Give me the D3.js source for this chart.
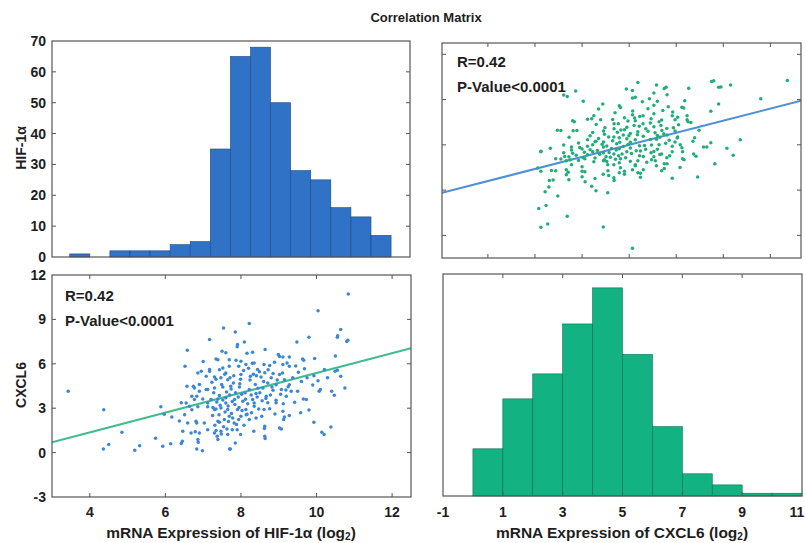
<!DOCTYPE html>
<html>
<head>
<meta charset="utf-8">
<script src="https://cdn.jsdelivr.net/npm/d3@7"></script>
<style>
  body { margin: 0; background: #fff; }
  text { font-family: "Liberation Sans", Arial, sans-serif; font-weight: bold; fill: #1e1e1e; }
</style>
</head>
<body>
<svg id="chart" width="806" height="543"></svg>
<script>
// histogram of HIF-1a (16 bins)
var hifBinStart = 3.47;
var hifBinWidth = 0.533;
var hifCounts = [1, 0, 2, 2, 2, 4, 5, 35, 65, 68, 50, 28, 25, 16, 13, 7];

// histogram of CXCL6 (bins of width 1 from 0)
var cxBinStart = 0;
var cxBinWidth = 1;
var cxCounts = [17, 35, 44, 62, 75, 51, 25, 8, 4, 1, 1];

// regression lines: [intercept, slope]
var fitCxOnHif = [-1.304, 0.668];
var fitHifOnCx = [6.935, 0.267];

var statLines = ['R=0.42', 'P-Value<0.0001'];
var countTicks = [0, 10, 20, 30, 40, 50, 60, 70];
var hifTicks = [4, 6, 8, 10, 12];
var cxTicks = [-3, 0, 3, 6, 9, 12];
var cxHistTicks = [-1, 1, 3, 5, 7, 9, 11];
var hifInnerTicks = [4, 6, 8, 10, 12];
var cxInnerTicks = [-2, 0, 2, 4, 6, 8, 10];

// samples: [HIF-1a, CXCL6]
var samples = [
  [3.43,4.14],[4.37,2.9],[4.36,0.25],[4.5,0.54],[4.85,1.37],[5.19,0.16],[5.32,0.47],[5.74,0.97],
  [5.88,3.09],[5.93,0.43],[5.97,2.59],[6.17,2.41],[6.14,0.59],[6.37,2.13],[6.45,0.77],[6.51,2.55],
  [6.52,5.83],[6.58,6.91],[6.55,3.35],[6.57,4.48],[7.17,7.64],[7.54,8.42],[7.85,8.15],[8.09,7.47],
  [8.22,8.72],[7.9,7.16],[8.64,6.97],[9.48,7.47],[9.8,7.8],[10.04,9.59],[10.64,8.31],[10.84,10.72],
  [10.55,7.8],[10.8,7.5],[10.5,6.53],[10.75,4.37],[10.64,5.16],[10.55,5.57],[10.4,4.14],[10.47,3.88],
  [10.38,1.73],[9.93,2.05],[10.14,1.37],[10.2,1.22],[9.8,2.88],[9.65,3.63],[9.9,4.56],[9.93,5.2],
  [10.04,4.86],[9.95,6.36],[9.63,6.32],[9.6,4.8],[10.07,4.14],[10.29,5.05],[9.19,4.23],[9.28,2.5],
  [9.13,2.23],[9.07,1.6],[9.37,5.05],[9.1,5.38],[9.28,5.83],[9.02,6.5],[8.82,4.43],[8.66,3.65],
  [8.93,3.54],[8.76,2.97],[8.62,1.62],[8.64,0.95],[8.4,2.34],[8.35,3.35],[8.45,4.35],[8.49,5.47],
  [8.3,6.04],[8.16,6.71],[7.94,5.83],[7.99,4.95],[8.12,3.6],[8.16,2.59],[7.94,2.23],[7.99,1.22],
  [7.85,0.65],[7.7,0.25],[7.77,1.55],[7.69,2.45],[7.6,3.35],[7.73,4.48],[7.6,5.38],[7.69,6.27],
  [7.5,6.84],[7.39,6.27],[7.43,5.6],[7.34,4.95],[7.43,3.85],[7.34,2.95],[7.43,2.05],[7.48,1.26],
  [7.34,1.49],[7.25,2.5],[7.12,3.35],[7.08,4.26],[7.17,5.49],[7.0,6.16],[6.86,5.38],[6.9,4.6],
  [6.83,3.8],[6.86,3.1],[6.83,2.0],[6.87,0.7],[6.83,0.25],[6.98,0.12],[6.9,1.33],[6.7,3.8],
  [6.7,2.9],[6.74,4.48],[6.79,1.41],
  [7.91,7.3],[7.6,6.74],[7.34,6.33],[7.87,6.24],[8.0,6.17],[8.31,6.78],[8.35,6.06],[8.13,5.95],
  [7.69,5.83],[7.52,5.72],[7.17,5.61],[6.95,5.49],[7.08,5.16],[7.3,5.11],[7.47,5.05],[7.65,4.93],
  [7.81,5.2],[8.0,5.27],[8.25,5.16],[8.44,5.61],[6.77,4.37],[6.9,4.14],[7.12,4.26],[7.3,4.37],
  [7.52,4.44],[7.74,4.3],[7.96,4.44],[8.22,4.26],[8.4,3.99],[6.77,3.58],[6.99,3.63],[7.21,3.58],
  [7.39,3.63],[7.6,3.7],[7.83,3.58],[8.05,3.47],[8.31,3.58],[6.42,3.36],[6.64,3.13],[7.12,3.09],
  [7.3,2.91],[7.47,3.02],[7.65,2.91],[7.91,2.91],[8.13,2.91],[8.35,3.13],[6.59,2.0],[6.81,2.12],
  [7.03,2.0],[7.39,2.12],[7.56,2.23],[7.78,2.34],[8.0,2.45],[8.22,2.23],[6.46,1.44],[6.68,1.33],
  [7.12,1.55],[7.3,1.33],[7.47,1.44],[7.65,1.22],[6.86,0.88],[7.39,0.88],[7.72,0.25],[6.42,0.61],
  [10.56,7.9],[10.83,7.59],[8.99,6.62],[9.11,6.46],[9.28,6.46],[9.66,6.24],[8.89,6.1],[8.61,5.95],
  [8.76,5.88],[9.11,5.95],[9.22,6.06],[9.52,5.43],[9.68,5.66],[10.21,5.61],[10.49,5.49],[8.63,5.39],
  [8.8,5.05],[9.02,5.27],[9.15,4.93],[8.71,4.71],[8.93,4.59],[9.28,4.59],[10.1,4.26],[8.58,4.37],
  [8.85,4.21],[9.07,4.26],[9.33,4.14],[8.67,3.8],[9.2,3.8],[8.71,3.36],[8.93,3.36],[9.73,3.58],
  [8.61,2.91],[9.11,2.79],[9.15,2.41],[8.63,1.78],[9.02,1.67],[8.63,1.1],
  [7.28,4.05],[7.36,3.42],[7.45,3.2],[7.52,3.55],[7.58,2.75],[7.62,4.1],[7.66,3.15],[7.7,3.9],
  [7.75,2.65],[7.8,4.7],[7.84,3.25],[7.88,1.9],[7.93,3.75],[7.97,4.65],[8.03,2.85],[8.07,5.55],
  [8.11,4.05],[8.18,3.3],[8.24,4.9],[8.28,2.7],[8.33,5.3],[8.38,4.6],[8.43,3.75],[8.47,2.95],
  [8.53,5.1],[8.56,3.5],[8.6,4.8],[7.23,4.75],[7.26,3.05],[7.31,1.85],[7.37,1.1],[7.42,2.55],
  [7.49,4.6],[7.54,1.75],[7.57,5.3],[7.63,1.6],[7.67,2.1],[7.71,5.05],[7.77,3.45],[7.82,2.0],
  [7.86,4.05],[7.9,1.55],[7.95,3.05],[8.02,3.95],[8.08,1.85],[8.14,2.55],[8.2,5.7],[8.27,3.9],
  [8.34,1.45],[8.41,5.2],[8.5,4.05],[8.55,2.45],[8.72,5.6],[8.78,3.9],[8.85,5.35],[8.9,2.6],
  [8.96,4.9],[9.05,3.95],[9.12,3.3],[9.25,4.45],[9.42,3.4],[9.5,4.15],[9.58,2.7],[9.45,5.85],
  [9.75,5.05]
];

var blueBar = '#2f72c6', blueEdge = '#1c4a86';
var greenBar = '#12b283', greenEdge = '#0b6e50';
var blueDot = '#3c86d6', greenDot = '#21ad78';
var frame = '#555';

var svg = d3.select('#chart');

// panel boxes [left, top, right, bottom]
var boxTL = [52, 41, 410, 257];
var boxTR = [442, 43, 801, 258];
var boxBL = [52, 275, 411, 497];
var boxBR = [443, 274, 802, 496];

var xHifTop = d3.scaleLinear().domain([3, 12.5]).range([boxTL[0], boxTL[2]]);
var yCount = d3.scaleLinear().domain([0, 70]).range([boxTL[3], boxTL[1]]);
var xCxTop = d3.scaleLinear().domain([-3.95, 11.3]).range([boxTR[0], boxTR[2]]);
var yHifTop = d3.scaleLinear().domain([3, 12.5]).range([boxTR[3], boxTR[1]]);
var xHif = d3.scaleLinear().domain([3, 12.5]).range([boxBL[0], boxBL[2]]);
var yCx = d3.scaleLinear().domain([-3, 12]).range([boxBL[3], boxBL[1]]);
var xCx = d3.scaleLinear().domain([-1, 11]).range([boxBR[0], boxBR[2]]);
var yCount2 = d3.scaleLinear().domain([0, 80]).range([boxBR[3], boxBR[1]]);

function clip(id, b) {
    svg.append('clipPath').attr('id', id).append('rect')
        .attr('x', b[0]).attr('y', b[1]).attr('width', b[2] - b[0]).attr('height', b[3] - b[1]);
    return 'url(#' + id + ')';
}

function frameBox(b) {
    svg.append('rect')
        .attr('x', b[0]).attr('y', b[1]).attr('width', b[2] - b[0]).attr('height', b[3] - b[1])
        .attr('fill', 'none').attr('stroke', frame).attr('stroke-width', 1.2);
}

// inward tick marks; sides is a string with any of 'l','r','t','b'
function innerTicks(b, scale, values, sides) {
    var g = svg.append('g').attr('stroke', frame).attr('stroke-width', 1);
    values.forEach(function(v) {
        var p = scale(v);
        if (sides.indexOf('l') >= 0) g.append('line').attr('x1', b[0]).attr('x2', b[0] + 4).attr('y1', p).attr('y2', p);
        if (sides.indexOf('r') >= 0) g.append('line').attr('x1', b[2]).attr('x2', b[2] - 4).attr('y1', p).attr('y2', p);
        if (sides.indexOf('t') >= 0) g.append('line').attr('y1', b[1]).attr('y2', b[1] + 4).attr('x1', p).attr('x2', p);
        if (sides.indexOf('b') >= 0) g.append('line').attr('y1', b[3]).attr('y2', b[3] - 4).attr('x1', p).attr('x2', p);
    });
}

function leftLabels(scale, values, x) {
    svg.append('g').selectAll('text').data(values).join('text')
        .attr('x', x).attr('y', function(d) { return scale(d); })
        .attr('dy', '0.36em').attr('text-anchor', 'end')
        .attr('font-size', 14).text(function(d) { return d; });
}

function bottomLabels(scale, values, y) {
    svg.append('g').selectAll('text').data(values).join('text')
        .attr('x', function(d) { return Math.min(scale(d), 797); }).attr('y', y)
        .attr('text-anchor', 'middle').attr('font-size', 14).text(function(d) { return d; });
}

function stats(x, y) {
    svg.append('g').selectAll('text').data(statLines).join('text')
        .attr('x', x).attr('y', function(d, i) { return y + i * 25; })
        .attr('font-size', 15).text(function(d) { return d; });
}

// ---- top-left: HIF-1a histogram
svg.append('g').selectAll('rect').data(hifCounts).join('rect')
    .attr('x', function(d, i) { return xHifTop(hifBinStart + i * hifBinWidth); })
    .attr('width', function(d, i) { return xHifTop(hifBinStart + (i + 1) * hifBinWidth) - xHifTop(hifBinStart + i * hifBinWidth); })
    .attr('y', function(d) { return yCount(d); })
    .attr('height', function(d) { return yCount(0) - yCount(d); })
    .attr('fill', blueBar).attr('stroke', blueEdge).attr('stroke-width', 0.6)
    .style('display', function(d) { return d > 0 ? null : 'none'; });
frameBox(boxTL);
innerTicks(boxTL, yCount, countTicks.slice(1, 7), 'lr');
leftLabels(yCount, countTicks, 46);

// ---- top-right: HIF-1a vs CXCL6
var clipTR = clip('clipTR', boxTR);
svg.append('line').attr('clip-path', clipTR)
    .attr('x1', xCxTop(-3.95)).attr('y1', yHifTop(fitHifOnCx[0] + fitHifOnCx[1] * -3.95))
    .attr('x2', xCxTop(11.3)).attr('y2', yHifTop(fitHifOnCx[0] + fitHifOnCx[1] * 11.3))
    .attr('stroke', '#4d8fd8').attr('stroke-width', 2);
svg.append('g').selectAll('circle').data(samples).join('circle')
    .attr('cx', function(d) { return xCxTop(d[1]); })
    .attr('cy', function(d) { return yHifTop(d[0]); })
    .attr('r', 1.75).attr('fill', greenDot);
frameBox(boxTR);
innerTicks(boxTR, yHifTop, hifInnerTicks, 'lr');
innerTicks(boxTR, xCxTop, cxInnerTicks, 'tb');
stats(457, 67);

// ---- bottom-left: CXCL6 vs HIF-1a
var clipBL = clip('clipBL', boxBL);
svg.append('line').attr('clip-path', clipBL)
    .attr('x1', xHif(3)).attr('y1', yCx(fitCxOnHif[0] + fitCxOnHif[1] * 3))
    .attr('x2', xHif(12.5)).attr('y2', yCx(fitCxOnHif[0] + fitCxOnHif[1] * 12.5))
    .attr('stroke', '#3fbc8b').attr('stroke-width', 2);
svg.append('g').selectAll('circle').data(samples).join('circle')
    .attr('cx', function(d) { return xHif(d[0]); })
    .attr('cy', function(d) { return yCx(d[1]); })
    .attr('r', 1.75).attr('fill', blueDot);
frameBox(boxBL);
innerTicks(boxBL, yCx, cxTicks.slice(1, 5), 'lr');
innerTicks(boxBL, xHif, hifTicks, 'tb');
leftLabels(yCx, cxTicks, 46);
bottomLabels(xHif, hifTicks, 517);
stats(65, 301);

// ---- bottom-right: CXCL6 histogram
svg.append('g').selectAll('rect').data(cxCounts).join('rect')
    .attr('x', function(d, i) { return xCx(cxBinStart + i * cxBinWidth); })
    .attr('width', function(d, i) { return xCx(cxBinStart + (i + 1) * cxBinWidth) - xCx(cxBinStart + i * cxBinWidth); })
    .attr('y', function(d) { return yCount2(d); })
    .attr('height', function(d) { return yCount2(0) - yCount2(d); })
    .attr('fill', greenBar).attr('stroke', greenEdge).attr('stroke-width', 0.6);
frameBox(boxBR);
innerTicks(boxBR, xCx, cxHistTicks.slice(1, 6), 'tb');
bottomLabels(xCx, cxHistTicks, 517);

// ---- titles
svg.append('text').attr('x', 426).attr('y', 22).attr('text-anchor', 'middle')
    .attr('font-size', 13).text('Correlation Matrix');

function axisTitle(x, y, name) {
    var t = svg.append('text').attr('x', x).attr('y', y).attr('text-anchor', 'middle').attr('font-size', 15.5);
    t.append('tspan').text('mRNA Expression of ' + name + ' (log');
    t.append('tspan').attr('font-size', 10).attr('dy', 2).text('2');
    t.append('tspan').attr('dy', -2).text(')');
}
axisTitle(231, 538, 'HIF-1\u03b1');
axisTitle(622, 538, 'CXCL6');

svg.append('text').attr('transform', 'translate(26,148) rotate(-90)')
    .attr('text-anchor', 'middle').attr('font-size', 14).text('HIF-1\u03b1');
svg.append('text').attr('transform', 'translate(26,385) rotate(-90)')
    .attr('text-anchor', 'middle').attr('font-size', 14).text('CXCL6');
</script>
</body>
</html>
